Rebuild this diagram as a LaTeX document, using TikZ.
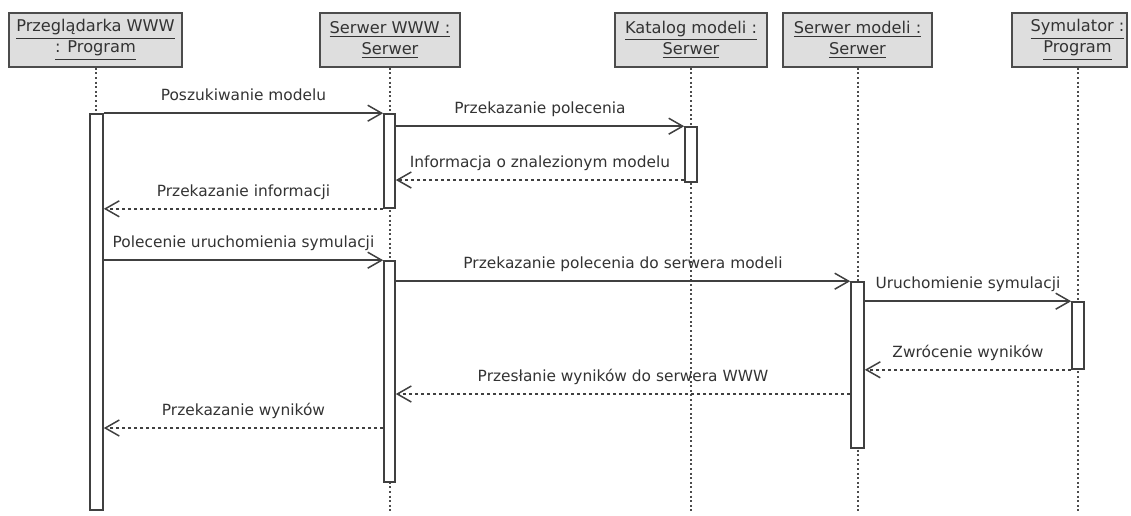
\documentclass[tikz,border=0pt]{standalone}
\usepackage{fontspec}
\setmainfont{DejaVu Sans}
\usetikzlibrary{arrows.meta,fit,positioning}

\begin{document}
\begin{tikzpicture}[
    x=0.5pt, y=-0.5pt,
    font=\fontsize{7.7}{10.5}\selectfont,
    actor/.style={draw=black!70, fill=black!13, rectangle, minimum height=27pt, align=center, inner sep=0pt, line width=0.8pt, text=black!80, font=\fontsize{8.1}{10.5}\selectfont},
    lifeline/.style={draw=black!70, line width=0.8pt, dash pattern=on 1pt off 1.3pt},
    bar/.style={draw=black!75, fill=white, rectangle, inner sep=0pt, line width=0.8pt},
    call/.style={-{Straight Barb[length=7pt,width=8pt]}, draw=black!75, line width=0.75pt},
    reply/.style={call, dash pattern=on 1.8pt off 1.2pt},
    msgtext/.style={midway, above=6pt, inner sep=0pt, text depth=0pt, text=black!80},
]
    \useasboundingbox (0,0) rectangle (1131,515);

    % Objects
    \node [actor, minimum width=86.5pt] (przeg) at (95.5,40) {\underline{Przeglądarka WWW}\\\underline{: Program}};
    \node [actor, minimum width=70pt] (www) at (390,40) {\underline{Serwer WWW :}\\\underline{Serwer}};
    \node [actor, minimum width=76pt] (katalog) at (691,40) {\underline{Katalog modeli :}\\\underline{Serwer}};
    \node [actor, minimum width=74.5pt] (modele) at (857.5,40) {\underline{Serwer modeli :}\\\underline{Serwer}};
    \node [actor, minimum width=57.5pt] (sym) at (1069.5,40) {\hspace*{8pt}\underline{Symulator :}\\\hspace*{8pt}\underline{Program}};

    % Lifelines
    \coordinate (przeg-end) at (96,512);
    \coordinate (www-end) at (390,512);
    \coordinate (katalog-end) at (691,512);
    \coordinate (modele-end) at (858,512);
    \coordinate (sym-end) at (1078,512);
    \draw [lifeline] (przeg-end |- przeg.south) -- (przeg-end);
    \draw [lifeline] (www-end |- www.south) -- (www-end);
    \draw [lifeline] (katalog-end |- katalog.south) -- (katalog-end);
    \draw [lifeline] (modele-end |- modele.south) -- (modele-end);
    \draw [lifeline] (sym-end |- sym.south) -- (sym-end);

    % Activations
    \node [bar, fit={(90,114) (103,510)}] (b1) {};
    \node [bar, fit={(384,114) (395,208)}] (b2a) {};
    \node [bar, fit={(685,127) (697,182)}] (b3) {};
    \node [bar, fit={(384,261) (395,482)}] (b2b) {};
    \node [bar, fit={(851,282) (864,448)}] (b4) {};
    \node [bar, fit={(1072,302) (1084,369)}] (b5) {};

    % Messages
    \coordinate (m3) at (0,180);
    \coordinate (m9) at (0,394);
    \coordinate (m10) at (0,428);
    \draw [call] (b1.north east) -- node [msgtext] {Poszukiwanie modelu} (b2a.north west);
    \draw [call] (b2a.east |- b3.north) -- node [msgtext] {Przekazanie polecenia} (b3.north west);
    \draw [reply] (b3.west |- m3) -- node [msgtext] {Informacja o znalezionym modelu} (b2a.east |- m3);
    \draw [reply] (b2a.south west) -- node [msgtext] {Przekazanie informacji} (b1.east |- b2a.south);
    \draw [call] (b1.east |- b2b.north) -- node [msgtext] {Polecenie uruchomienia symulacji} (b2b.north west);
    \draw [call] (b2b.east |- b4.north) -- node [msgtext] {Przekazanie polecenia do serwera modeli} (b4.north west);
    \draw [call] (b4.east |- b5.north) -- node [msgtext] {Uruchomienie symulacji} (b5.north west);
    \draw [reply] (b5.south west) -- node [msgtext] {Zwrócenie wyników} (b4.east |- b5.south);
    \draw [reply] (b4.west |- m9) -- node [msgtext] {Przesłanie wyników do serwera WWW} (b2b.east |- m9);
    \draw [reply] (b2b.west |- m10) -- node [msgtext] {Przekazanie wyników} (b1.east |- m10);

\end{tikzpicture}
\end{document}
